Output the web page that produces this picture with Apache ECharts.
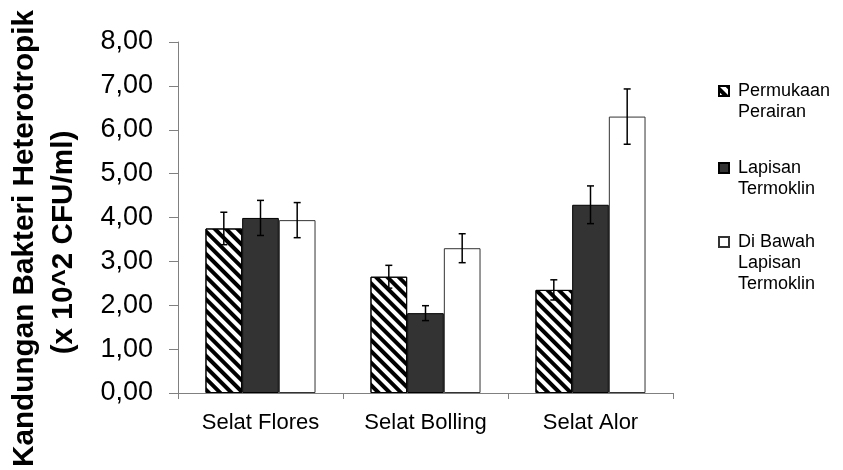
<!DOCTYPE html>
<html>
<head>
<meta charset="utf-8">
<script src="https://cdn.jsdelivr.net/npm/echarts@6/dist/echarts.min.js"></script>
<style>
html,body{margin:0;padding:0;background:#fff;}
#chart{width:843px;height:470px;}
</style>
</head>
<body>
<div id="chart"></div>
<script>
var categories = ['Selat Flores', 'Selat Bolling', 'Selat Alor'];
var seriesNames = ['Permukaan Perairan', 'Lapisan Termoklin', 'Di Bawah Lapisan Termoklin'];
var permukaan = [3.75, 2.65, 2.35];
var termoklin = [3.99, 1.82, 4.29];
var bawah = [3.94, 3.30, 6.30];
var permukaanErr = [0.37, 0.26, 0.23];
var termoklinErr = [0.40, 0.17, 0.43];
var bawahErr = [0.40, 0.33, 0.63];
var yTicks = [0, 1, 2, 3, 4, 5, 6, 7, 8];
var yTitle1 = 'Kandungan Bakteri Heterotropik';
var yTitle2 = '(x 10^2 CFU/ml)';

var FONT = "'Liberation Sans', Arial, sans-serif";
var values = [permukaan, termoklin, bawah];
var errs = [permukaanErr, termoklinErr, bawahErr];
var legendTexts = {
  'Permukaan Perairan': '\nPermukaan\nPerairan',
  'Lapisan Termoklin': '\nLapisan\nTermoklin',
  'Di Bawah Lapisan Termoklin': '\n\nDi Bawah\nLapisan\nTermoklin'
};
var legendCenters = [91, 168, 242];
var legendLines = [3, 3, 5];

var chart = echarts.init(document.getElementById('chart'), null, {renderer: 'canvas'});

var barStyles = [
  {color: '#ffffff', borderColor: '#000000', borderWidth: 1,
   decal: {symbol: 'rect', symbolSize: 1, dashArrayX: [1, 0], dashArrayY: [3.5, 3.5], rotation: Math.PI / 4, color: '#000000'}},
  {color: '#333333', borderColor: '#000000', borderWidth: 1},
  {color: '#ffffff', borderColor: '#333333', borderWidth: 1}
];

var series = [];
seriesNames.forEach(function (name, i) {
  series.push({
    type: 'bar',
    name: name,
    data: values[i],
    barGap: '0%',
    barCategoryGap: '33.3%',
    itemStyle: barStyles[i]
  });
});
seriesNames.forEach(function (name, i) {
  var data = values[i].map(function (v, k) { return [k, v, errs[i][k]]; });
  series.push({
    type: 'custom',
    name: name + ' err',
    data: data,
    z: 10,
    silent: true,
    encode: {x: 0, y: 1},
    renderItem: function (params, api) {
      var k = api.value(0), v = api.value(1), e = api.value(2);
      var catW = api.size([1, 0])[0];
      var barW = catW * (1 - 0.333) / 3;
      var cx = api.coord([k, v])[0] + (i - 1) * barW;
      var yTop = api.coord([k, v + e])[1];
      var yBot = api.coord([k, v - e])[1];
      var half = 3.5;
      var st = {stroke: '#000000', lineWidth: 1.5};
      return {
        type: 'group',
        children: [
          {type: 'line', shape: {x1: cx, y1: yTop, x2: cx, y2: yBot}, style: st},
          {type: 'line', shape: {x1: cx - half, y1: yTop, x2: cx + half, y2: yTop}, style: st},
          {type: 'line', shape: {x1: cx - half, y1: yBot, x2: cx + half, y2: yBot}, style: st}
        ]
      };
    }
  });
});

var legends = seriesNames.map(function (name, i) {
  var h = legendLines[i] * 21;
  return {
    data: [name],
    orient: 'vertical',
    left: 718,
    top: legendCenters[i] - h / 2,
    padding: 0,
    itemWidth: 10,
    itemHeight: 10,
    itemGap: 8,
    icon: 'rect',
    selectedMode: false,
    formatter: function (n) { return legendTexts[n]; },
    textStyle: {fontFamily: FONT, fontSize: 18, color: '#000000', lineHeight: 21, padding: [0, 0, 0, 4]}
  };
});

var option = {
  backgroundColor: '#ffffff',
  animation: false,
  grid: {left: 178, right: 170, top: 42, bottom: 77, containLabel: false},
  legend: legends,
  xAxis: {
    type: 'category',
    data: categories,
    axisLine: {lineStyle: {color: '#808080', width: 1}},
    axisTick: {show: true, length: 6, alignWithLabel: false, interval: 0, lineStyle: {color: '#808080'}},
    axisLabel: {fontFamily: FONT, fontSize: 22, color: '#000000', margin: 19, interval: 0},
    splitLine: {show: false}
  },
  yAxis: {
    type: 'value',
    min: yTicks[0],
    max: yTicks[yTicks.length - 1],
    interval: 1,
    axisLine: {show: true, lineStyle: {color: '#808080', width: 1}},
    axisTick: {show: true, length: 9, lineStyle: {color: '#808080'}},
    axisLabel: {fontFamily: FONT, fontSize: 27, color: '#000000', margin: 25,
      formatter: function (v) { return v.toFixed(2).replace('.', ','); }},
    splitLine: {show: false}
  },
  graphic: [
    {type: 'text', x: 25, y: 238.5, rotation: Math.PI / 2,
     style: {text: yTitle1, font: "bold 29.7px 'Liberation Sans', Arial, sans-serif", fill: '#000000', align: 'center', verticalAlign: 'middle'}},
    {type: 'text', x: 64, y: 242.5, rotation: Math.PI / 2,
     style: {text: yTitle2, font: "bold 29.7px 'Liberation Sans', Arial, sans-serif", fill: '#000000', align: 'center', verticalAlign: 'middle'}}
  ],
  series: series
};
chart.setOption(option);
</script>
</body>
</html>
